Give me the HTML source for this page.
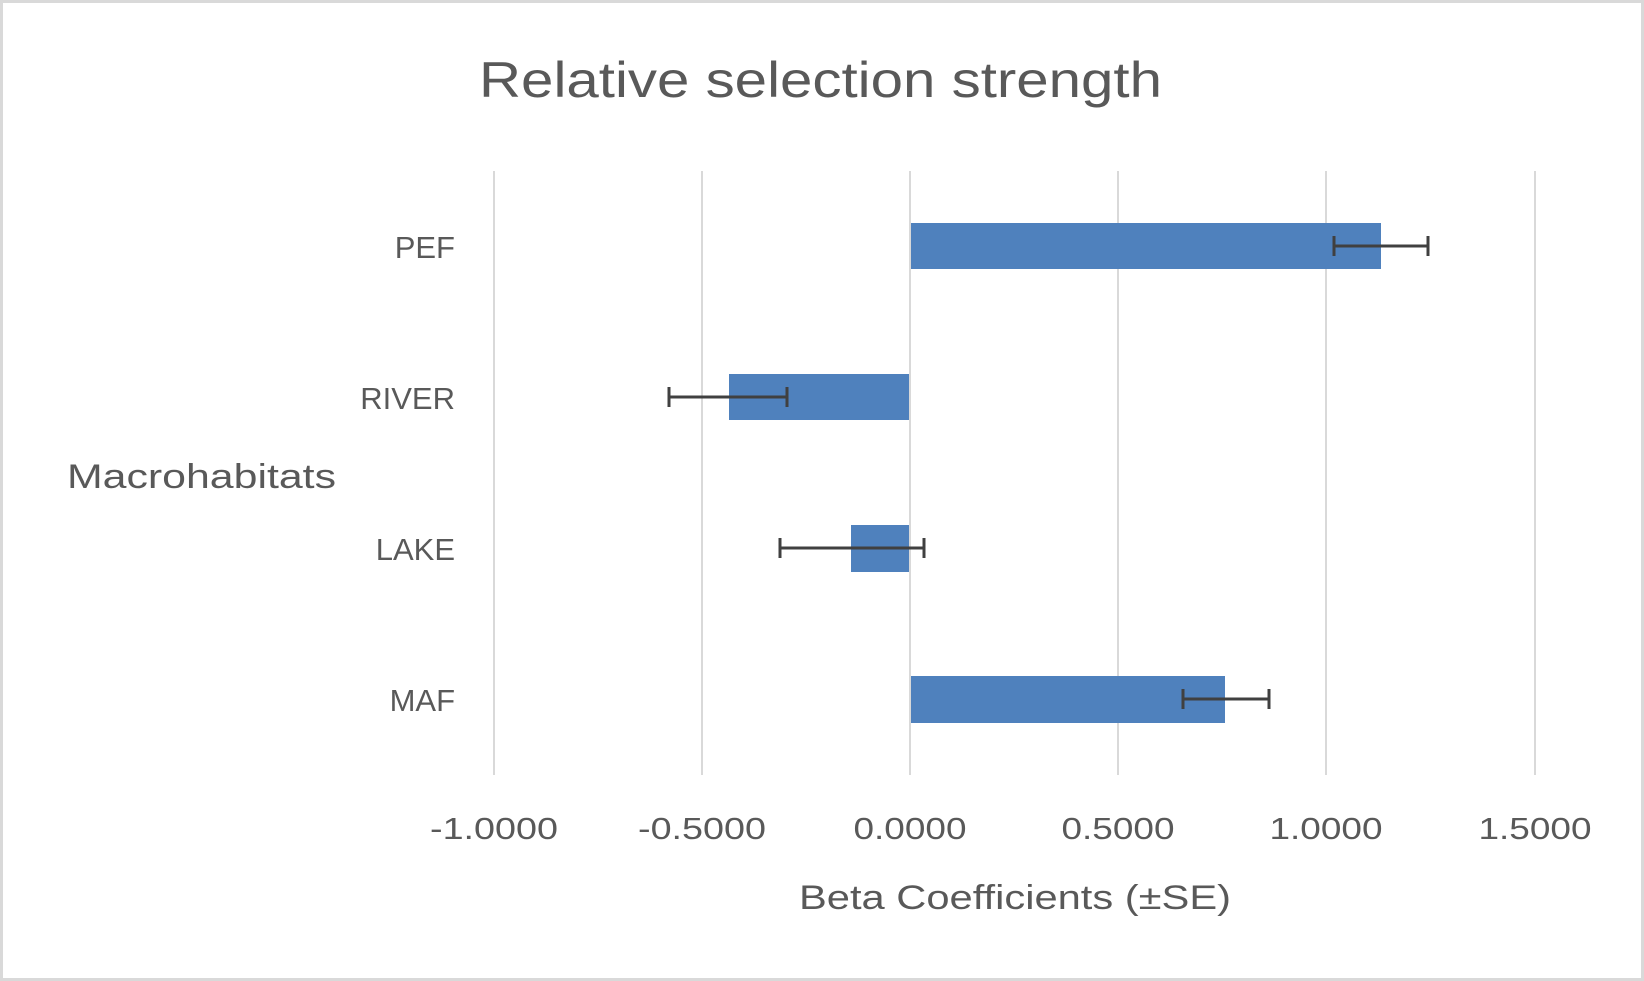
<!DOCTYPE html>
<html><head><meta charset="utf-8"><style>
html,body{margin:0;padding:0;background:#fff;}
svg{display:block;}
text{font-family:"Liberation Sans",sans-serif;fill:#595959;}
</style></head><body>
<svg width="1644" height="981" viewBox="0 0 1644 981">
<rect x="1.5" y="1.5" width="1641" height="978" fill="#fff" stroke="#d9d9d9" stroke-width="3"/>
<text x="479" y="97" font-size="50" textLength="683" lengthAdjust="spacingAndGlyphs">Relative selection strength</text>
<g stroke="#d9d9d9" stroke-width="2">
<line x1="494" y1="171" x2="494" y2="775"/>
<line x1="702" y1="171" x2="702" y2="775"/>
<line x1="910" y1="171" x2="910" y2="775"/>
<line x1="1118" y1="171" x2="1118" y2="775"/>
<line x1="1326" y1="171" x2="1326" y2="775"/>
<line x1="1535" y1="171" x2="1535" y2="775"/>
</g>
<g fill="#4f81bd">
<rect x="911" y="223" width="470" height="46"/>
<rect x="729" y="374" width="180" height="46"/>
<rect x="851" y="525" width="58" height="47"/>
<rect x="911" y="676" width="314" height="47"/>
</g>
<g stroke="#404040" stroke-width="3" fill="none">
<path d="M1334 246H1428M1334 236V256M1428 236V256"/>
<path d="M669 397H787M669 387V407M787 387V407"/>
<path d="M780 548H924M780 538V558M924 538V558"/>
<path d="M1183 699H1269M1183 689V709M1269 689V709"/>
</g>
<g font-size="31" text-anchor="end">
<text x="455" y="258">PEF</text>
<text x="455" y="409">RIVER</text>
<text x="455" y="560">LAKE</text>
<text x="455" y="711">MAF</text>
</g>
<text x="67" y="488" font-size="34" textLength="269" lengthAdjust="spacingAndGlyphs">Macrohabitats</text>
<g font-size="31" text-anchor="middle">
<text x="494" y="839" textLength="128" lengthAdjust="spacingAndGlyphs">-1.0000</text>
<text x="702" y="839" textLength="128" lengthAdjust="spacingAndGlyphs">-0.5000</text>
<text x="910" y="839" textLength="113" lengthAdjust="spacingAndGlyphs">0.0000</text>
<text x="1118" y="839" textLength="113" lengthAdjust="spacingAndGlyphs">0.5000</text>
<text x="1326" y="839" textLength="113" lengthAdjust="spacingAndGlyphs">1.0000</text>
<text x="1535" y="839" textLength="113" lengthAdjust="spacingAndGlyphs">1.5000</text>
</g>
<text x="799" y="909" font-size="34" textLength="432" lengthAdjust="spacingAndGlyphs">Beta Coefficients (±SE)</text>
</svg>
</body></html>
